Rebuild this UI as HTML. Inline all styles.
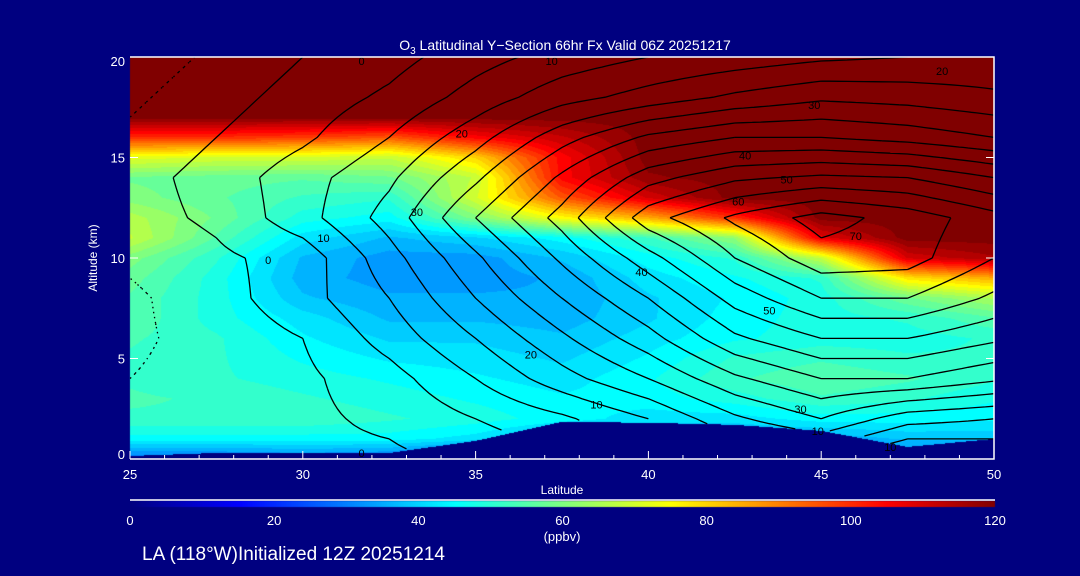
<!DOCTYPE html>
<html><head><meta charset="utf-8"><style>
html,body{margin:0;padding:0;background:#000080;width:1080px;height:576px;overflow:hidden}
#wrap{position:relative;width:1080px;height:576px;font-family:"Liberation Sans",sans-serif;color:#fff}
canvas{position:absolute;left:0;top:0}
svg{position:absolute;left:0;top:0}
</style></head><body>
<div id="wrap">
<canvas id="cv" width="1080" height="576"></canvas>
<svg id="sv" width="1080" height="576"></svg>
</div>
<script>
// ---- data ----
const lats = [25,27.5,30,32.5,35,37.5,40,42.5,45,47.5,50];
const altsO3 = [0,1,2,3,4,5,6,7,8,9,10,11,12,13,14,15,16,17,18,19,20];
const o3_25  = [28,45,52,53,52,52,53,55,55,57,60,68,66,60,58,72,100,120,120,120,120];
const o3_275 = [28,45,52,52,50,50,50,48,48,48,50,55,58,56,57,70,100,120,120,120,120];
const o3_30  = [30,45,52,50,48,46,44,42,38,36,37,42,48,52,56,70,98,120,120,120,120];
const o3_325 = [28,45,50,48,46,43,40,37,35,33,33,37,45,50,58,68,95,120,120,120,120];
const o3_35  = [20,42,48,46,44,42,40,37,35,33,33,40,60,70,68,80,105,120,120,120,120];
const o3_375 = [20,35,45,44,42,40,38,36,35,35,38,45,75,95,105,105,112,120,120,120,120];
const o3_40  = [20,35,42,45,46,44,42,40,40,42,45,52,85,110,118,120,120,120,120,120,120];
const o3_425 = [20,35,42,48,52,50,46,45,44,46,50,62,100,120,120,120,120,120,120,120,120];
const o3_45  = [20,35,45,52,55,52,48,48,48,50,68,108,120,120,120,120,120,120,120,120,120];
const o3_475 = [30,38,45,50,53,50,48,50,58,78,110,120,120,120,120,120,120,120,120,120,120];
const o3_50  = [30,38,44,47,50,50,50,55,65,85,115,120,120,120,120,120,120,120,120,120,120];
const terrain = [0.15,0.3,0.3,0.3,0.9,1.85,1.8,1.7,1.4,0.6,1.0];
const altsW = [0,2,4,6,8,10,12,14,16,18,20];
const w0  = [-1,-1,-1,-1,1,4,8,14,16,8,10];
const w2  = [-3,-2,-1,1,5,9,15,24,30,22,20];
const w4  = [-5,-3,-1,3,10,18,25,34,40,40,36];
const w6  = [-6,-3,0,7,15,24,33,44,50,50,46];
const w8  = [-6,-2,3,10,20,30,40,52,60,60,54];
const w10 = [-4,-1,2,13,24,36,48,60,68,67,60];
const w12 = [-2,1,8,17,30,42,58,66,72,68,62];
const w14 = [-2,2,8,14,24,36,48,54,56,55,50];
const w16 = [-4,0,4,10,18,28,36,40,40,38,35];
const w18 = [-6,-2,2,6,12,18,22,26,29,28,26];
const w20 = [-8,-4,0,3,8,12,15,17,19,20,21];
const contourLevels = [-10,-5,0,5,10,15,20,25,30,35,40,45,50,55,60,65,70];
const xTicks = [25,30,35,40,45,50];
const yTicks = [0,5,10,15,20];
const cbTicks = [0,20,40,60,80,100,120];
const cLabels = [["0",31.7,19.8],["10",37.2,19.8],["20",48.5,19.3],["20",34.6,16.2],["30",33.3,12.3],["10",30.6,11],["0",29,9.9],["40",39.8,9.3],["50",43.5,7.4],["20",36.6,5.2],["10",38.5,2.7],["30",44.4,2.5],["10",44.9,1.4],["10",47,0.6],["0",31.7,0.3],["30",44.8,17.6],["40",42.8,15.1],["50",44,13.9],["60",42.6,12.8],["70",46,11.1]];

// ---- axes ----
const X0=130,X1=994,Y0=459,Y1=57;
const xs = lat => X0+(lat-25)/25*(X1-X0);
const ys = alt => Y0-(alt/20)*(Y0-Y1);
const CB0=130,CB1=995;
const cbx = v => CB0+v/120*(CB1-CB0);

const o3Cols=[o3_25,o3_275,o3_30,o3_325,o3_35,o3_375,o3_40,o3_425,o3_45,o3_475,o3_50];
const wRows=[w0,w2,w4,w6,w8,w10,w12,w14,w16,w18,w20];
function jet(v){const t=Math.max(0,Math.min(1,v/120));const c=x=>Math.round(255*Math.max(0,Math.min(1,1.5-Math.abs(4*t-x))));return [c(3),c(2),c(1)];}
function interp1(arr,xa,x){let i=0;while(i<xa.length-2&&x>xa[i+1])i++;const f=(x-xa[i])/(xa[i+1]-xa[i]);return arr[i]*(1-f)+arr[i+1]*f;}
function o3At(lat,alt){const colv=o3Cols.map(c=>interp1(c,altsO3,alt));return interp1(colv,lats,lat);}
function wAt(lat,alt){const rowv=wRows.map(r=>interp1(r,lats,lat));return interp1(rowv,altsW,alt);}
function terr(lat){return interp1(terrain,lats,lat);}

// field
const ctx=document.getElementById('cv').getContext('2d');
const img=ctx.createImageData(X1-X0,Y0-Y1);
for(let py=0;py<Y0-Y1;py++){const alt=(Y0-(Y1+py+0.5))/(Y0-Y1)*20;
 for(let px=0;px<X1-X0;px++){const lat=25+(px+0.5)/(X1-X0)*25;
  let c;if(alt<terr(lat))c=[0,0,128];else{let v=o3At(lat,alt);v=Math.round(v/3)*3;c=jet(v);}
  const k=(py*(X1-X0)+px)*4;img.data[k]=c[0];img.data[k+1]=c[1];img.data[k+2]=c[2];img.data[k+3]=255;}}
ctx.putImageData(img,X0,Y1);
// colorbar
for(let x=CB0;x<CB1;x++){const c=jet((x-CB0)/(CB1-CB0)*120);ctx.fillStyle=`rgb(${c[0]},${c[1]},${c[2]})`;ctx.fillRect(x,501,1,6);}

const NS='http://www.w3.org/2000/svg';const sv=document.getElementById('sv');
function mk(tag,attrs,parent){const e=document.createElementNS(NS,tag);for(const k in attrs)e.setAttribute(k,attrs[k]);(parent||sv).appendChild(e);return e;}

// contours (marching squares on fine grid)
const gC=mk('g',{});


const NX=100,NY=80;const G=[];
for(let j=0;j<=NY;j++){G.push([]);for(let i=0;i<=NX;i++)G[j].push(wAt(25+25*i/NX,20*j/NY));}
contourLevels.forEach(L=>{let d='';
 for(let j=0;j<NY;j++)for(let i=0;i<NX;i++){
  const a=G[j][i],b=G[j][i+1],c=G[j+1][i+1],e=G[j+1][i];
  const p=[];const ed=(v1,v2,x1,y1,x2,y2)=>{if((v1<L)!==(v2<L)){const f=(L-v1)/(v2-v1);p.push([x1+f*(x2-x1),y1+f*(y2-y1)]);}};
  ed(a,b,i,j,i+1,j);ed(b,c,i+1,j,i+1,j+1);ed(c,e,i+1,j+1,i,j+1);ed(e,a,i,j+1,i,j);
  for(let q=0;q+1<p.length;q+=2){const la=25+25*p[q][0]/NX,aa=20*p[q][1]/NY,lb=25+25*p[q+1][0]/NX,ab=20*p[q+1][1]/NY;
   if(aa<terr(la)||ab<terr(lb))continue;
   d+=`M${xs(la).toFixed(1)},${ys(aa).toFixed(1)}L${xs(lb).toFixed(1)},${ys(ab).toFixed(1)}`;}}
 const pth=mk('path',{d:d,fill:'none',stroke:'#000','stroke-width':1.3,'stroke-dasharray':L<0?'1.5,4':'none'},gC);
 
 
});
cLabels.forEach(l=>{const t=mk('text',{x:xs(l[1]),y:ys(l[2])+4,'font-size':11,fill:'#000','text-anchor':'middle','font-family':'Liberation Sans'},gC);t.textContent=l[0];
 
 });

// frame
const fr=mk('path',{d:`M${X0},${Y1}H${X1}V${Y0}H${X0}`,fill:'none',stroke:'#fff','stroke-width':1.5});


// x ticks
for(let lat=25;lat<=50;lat++){const maj=lat%5===0;mk('line',{x1:xs(lat),x2:xs(lat),y1:Y0,y2:Y0-(maj?8:4),stroke:'#fff','stroke-width':1});}
xTicks.forEach(v=>{const t=mk('text',{x:xs(v),y:479,'font-size':13,fill:'#fff','text-anchor':'middle'});t.textContent=v;
 
 });
yTicks.forEach(v=>{mk('line',{x1:X0,x2:X0+8,y1:ys(v),y2:ys(v),stroke:'#fff'});mk('line',{x1:X1,x2:X1-8,y1:ys(v),y2:ys(v),stroke:'#fff'});
 const t=mk('text',{x:125,y:Math.min(Math.max(ys(v)+5,66),459),'font-size':13,fill:'#fff','text-anchor':'end'});t.textContent=v;
 
 });
cbTicks.forEach(v=>{const t=mk('text',{x:cbx(v),y:525,'font-size':13,fill:'#fff','text-anchor':'middle'});t.textContent=v;
 
 });
mk('line',{x1:CB0,x2:CB1,y1:500,y2:500,stroke:'#fff','stroke-width':1.5});
</script>
<svg width="1080" height="576" style="position:absolute;left:0;top:0">
<text x="565" y="50" font-size="14" fill="#fff" text-anchor="middle" font-family="Liberation Sans">O<tspan font-size="10" dy="4">3</tspan><tspan dy="-4"> Latitudinal Y−Section 66hr  Fx Valid 06Z 20251217</tspan></text>
<text x="0" y="0" font-size="12" fill="#fff" text-anchor="middle" font-family="Liberation Sans" transform="translate(97,258) rotate(-90)">Altitude (km)</text>
<text x="562" y="494" font-size="12" fill="#fff" text-anchor="middle" font-family="Liberation Sans">Latitude</text>
<text x="562" y="541" font-size="13" fill="#fff" text-anchor="middle" font-family="Liberation Sans">(ppbv)</text>
<text x="142" y="560" font-size="19" fill="#fff" font-family="Liberation Sans">LA (118°W)Initialized 12Z 20251214</text>
</svg>
</body></html>
